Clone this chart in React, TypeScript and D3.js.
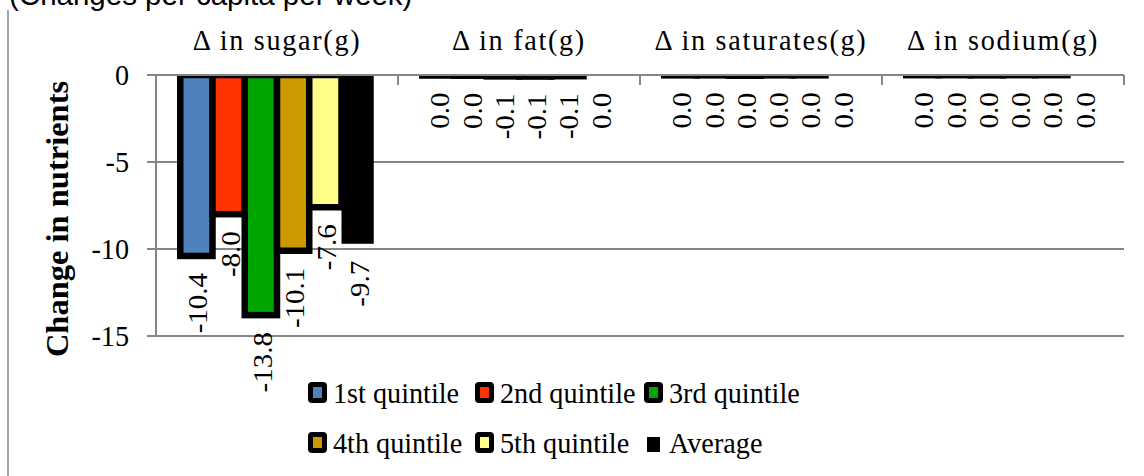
import React from "react";
import * as d3 from "d3";

const categories = ["Δ in sugar(g)", "Δ in fat(g)", "Δ in saturates(g)", "Δ in sodium(g)"];
const seriesNames = ["1st quintile", "2nd quintile", "3rd quintile", "4th quintile", "5th quintile", "Average"];
const seriesColors = ["#4F81BD", "#FF3300", "#00A600", "#CC9900", "#FFFF88", "#000000"];

const q1 = [-10.4, -0.03, -0.02, -0.01];
const q2 = [-8.0, -0.04, -0.02, -0.01];
const q3 = [-13.8, -0.08, -0.04, -0.02];
const q4 = [-10.1, -0.09, -0.02, -0.01];
const q5 = [-7.6, -0.07, -0.02, -0.01];
const avg = [-9.7, -0.04, -0.02, -0.01];
const seriesValues = [q1, q2, q3, q4, q5, avg];

const yTicks = [0, -5, -10, -15];
const yTitle = "Change in nutrients";
const topTitle = "(Changes per capita per week)";

const W = 1144;
const H = 476;
const SERIF = "'Liberation Serif', 'Times New Roman', serif";
const SANS = "'Liberation Sans', Arial, sans-serif";
const SX = 0.94;
const AXIS = "#868686";

const fmt = (v: number) => {
  const s = v.toFixed(1);
  return s === "-0.0" ? "0.0" : s;
};

export default function App() {
  const y = d3.scaleLinear().domain([-15, 0]).range([336, 75]);
  const x0 = d3.scaleBand<string>().domain(categories).range([156, 1124]).padding(0);
  const cw = x0.bandwidth();
  const gap = 24.25;
  const x1 = d3.scaleBand<string>().domain(seriesNames).range([gap, cw - gap]).padding(0);
  const bw = x1.bandwidth();
  const y0 = y(0);

  const legendCols = [308, 475, 644];
  const legendRows = [403, 453];

  return (
    <svg width={W} height={H} style={{ position: "absolute", left: 0, top: 0, background: "#fff" }}>
      <defs>
        <clipPath id="plotclip">
          <rect x={140} y={y0} width={1000} height={H - y0} />
        </clipPath>
      </defs>
      <rect x={0} y={0} width={W} height={H} fill="#fff" />
      {/* top title, cut off by the picture's top edge as in the reference */}
      <text x={9} y={5} fontFamily={SANS} fontSize={29.5} fill="#000">
        {topTitle}
      </text>
      {/* chart frame left edge */}
      <line x1={8} x2={8} y1={10} y2={H} stroke={AXIS} strokeWidth={1.5} />

      {/* gridlines */}
      {yTicks.map((t) => (
        <line key={"g" + t} x1={147} x2={1124} y1={y(t)} y2={y(t)} stroke={AXIS} strokeWidth={2} />
      ))}

      {/* bars */}
      <g clipPath="url(#plotclip)">
        {categories.map((c, ci) =>
          seriesNames.map((s, si) => {
            const v = seriesValues[si][ci];
            const isAvg = si === seriesNames.length - 1;
            return (
              <rect
                key={c + s}
                x={(x0(c) as number) + (x1(s) as number)}
                y={y0}
                width={bw}
                height={Math.max(0.01, y(v) < y0 ? 0 : y(v) - y0)}
                fill={seriesColors[si]}
                stroke={isAvg ? "none" : "#000"}
                strokeWidth={6.5}
              />
            );
          })
        )}
      </g>

      {/* zero axis line & vertical axis */}
      <line x1={147} x2={1124} y1={y0} y2={y0} stroke={AXIS} strokeWidth={2} />
      <line x1={156} x2={156} y1={y0} y2={y(-15)} stroke={AXIS} strokeWidth={2} />
      {categories.map((c) => (
        <line key={"t" + c} x1={x0(c) as number} x2={x0(c) as number} y1={y0} y2={y0 + 10} stroke={AXIS} strokeWidth={2} />
      ))}
      <line x1={1124} x2={1124} y1={y0} y2={y0 + 10} stroke={AXIS} strokeWidth={2} />

      {/* y tick labels */}
      {yTicks.map((t) => (
        <text
          key={"yl" + t}
          transform={`translate(129,${y(t) + 10}) scale(${SX},1)`}
          textAnchor="end"
          fontFamily={SERIF}
          fontSize={30}
          fill="#000"
        >
          {String(t)}
        </text>
      ))}

      {/* y title */}
      <text
        transform={`translate(68,219) scale(${SX},1) rotate(-90)`}
        textAnchor="middle"
        fontFamily={SERIF}
        fontWeight="bold"
        fontSize={32.5}
        fill="#000"
      >
        {yTitle}
      </text>

      {/* category labels */}
      {categories.map((c) => (
        <text
          key={"cl" + c}
          transform={`translate(${(x0(c) as number) + cw / 2},50) scale(${SX},1)`}
          textAnchor="middle"
          fontFamily={SERIF}
          fontSize={30}
          letterSpacing={1.8}
          fill="#000"
        >
          {c}
        </text>
      ))}

      {/* data labels */}
      {categories.map((c, ci) =>
        seriesNames.map((s, si) => {
          const v = seriesValues[si][ci];
          const cx = (x0(c) as number) + (x1(s) as number) + bw / 2;
          return (
            <text
              key={"dl" + c + s}
              transform={`translate(${cx + 11},${y(v) + 17}) scale(${SX},1) rotate(-90)`}
              textAnchor="end"
              fontFamily={SERIF}
              fontSize={29}
              fill="#000"
            >
              {fmt(v)}
            </text>
          );
        })
      )}

      {/* legend */}
      {seriesNames.map((s, i) => {
        const col = i % 3;
        const row = Math.floor(i / 3);
        const mx = legendCols[col];
        const by = legendRows[row];
        const isAvg = i === seriesNames.length - 1;
        return (
          <g key={"lg" + s}>
            {isAvg ? (
              <rect x={mx + 3} y={by - 16} width={13} height={15} fill={seriesColors[i]} />
            ) : (
              <rect
                x={mx + 2.5}
                y={by - 18.5}
                width={14}
                height={16}
                rx={1.5}
                fill={seriesColors[i]}
                stroke="#000"
                strokeWidth={5}
              />
            )}
            <text
              transform={`translate(${mx + 25},${by}) scale(${SX},1)`}
              fontFamily={SERIF}
              fontSize={30}
              fill="#000"
            >
              {s}
            </text>
          </g>
        );
      })}
    </svg>
  );
}
